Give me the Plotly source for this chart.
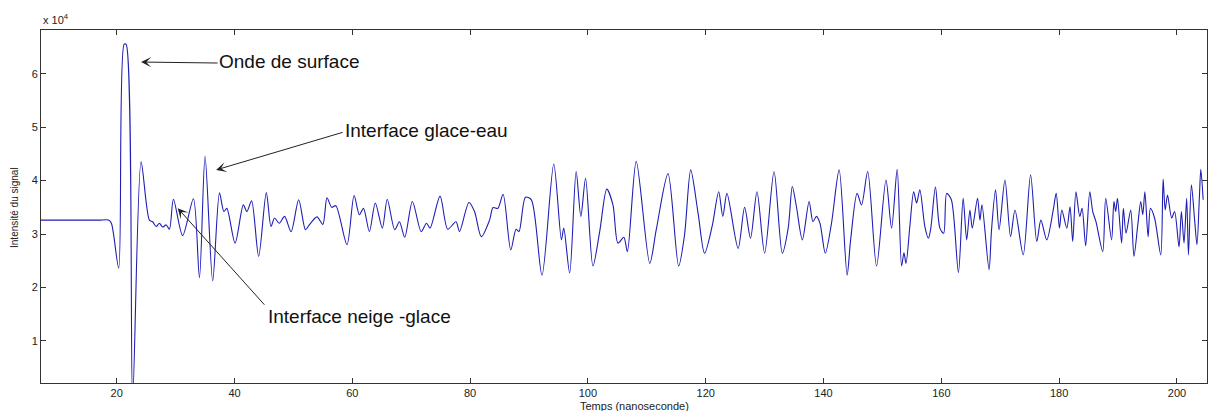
import plotly.graph_objects as go

# ---- data (time in ns, signal intensity) ----
time_ns = [
    7.15, 12.0, 17.0, 18.6, 19.1, 20.34, 21.25, 21.6, 22.7, 24.14, 25.55, 26.1, 26.7, 27.25, 27.8, 28.4, 28.95,
    29.63, 31.2, 33.03, 34.05, 35.0, 36.3, 37.45, 38.2, 38.7, 40.1, 41.5, 42.1, 42.9, 44.1,
    45.4, 46.2, 46.8, 47.6, 48.5, 49.6, 50.9, 52.05, 52.7, 54.0, 55.0, 55.7, 56.5, 57.2,
    59.1, 60.3, 61.2, 61.9, 62.9, 63.9, 65.1, 65.93, 67.2, 68.0, 68.9, 70.2, 71.7, 72.6,
    73.2, 74.9, 76.2, 77.6, 78.2, 79.8, 80.75, 81.9, 83.3, 83.9, 84.7, 85.6, 86.9, 87.8,
    88.3, 89.4, 90.4, 92.2, 94.2, 95.5, 95.9, 96.9, 98.0, 98.8, 99.6, 100.85, 102.0, 103.2,
    104.25, 105.1, 106.1, 106.7, 108.2, 110.5, 111.6, 113.6, 115.4, 116.4, 117.45, 118.7,
    119.8, 121.1, 122.2, 122.9, 123.6, 125.5, 126.6, 127.6, 128.7, 130.0, 131.6, 133.0,
    134.0, 134.7, 135.4, 136.4, 137.55, 138.2, 138.8, 139.4, 140.3, 141.35, 142.65, 144.0,
    144.6, 145.7, 146.45, 147.5, 149.0, 150.6, 151.55, 152.5, 153.25, 153.65, 154.0, 154.65,
    155.3, 155.8, 156.35, 157.2, 157.8, 158.2, 159.0, 159.75, 160.4, 160.9, 161.7, 162.9,
    163.7, 164.3, 164.85, 165.25, 166.15, 166.55, 166.9, 168.1, 168.5, 169.2, 169.8, 170.8,
    171.75, 172.5, 173.9, 175.15, 176.2, 176.9, 177.9, 179.0, 179.5, 180.05, 180.45, 181.3,
    181.85, 182.3, 182.85, 183.5, 183.9, 184.5, 185.2, 185.7, 186.25, 187.4, 187.9, 188.9,
    189.3, 189.6, 189.9, 190.6, 190.9, 191.35, 192.15, 192.7, 193.35, 193.85, 194.2, 194.55,
    195.1, 195.5, 196.2, 197.25, 197.65, 198.0, 198.4, 199.1, 199.6, 200.35, 200.75, 201.2,
    201.65, 201.95, 202.45, 203.0, 203.4, 203.8, 204.05, 204.45,
]
intensity = [
    32600, 32600, 32600, 32600, 32000, 23600, 65500, 65500, -1000, 43500, 32600, 32300, 31400, 32000, 31300, 31700, 30900,
    36500, 29700, 36600, 21800, 44600, 21200, 37700, 34200, 34800, 28300, 35450, 34200, 36200, 25800,
    37750, 31400, 33000, 32000, 33300, 30450, 36400, 30800, 31700, 33200, 31800, 36800, 35000, 35300,
    28000, 37200, 33600, 34800, 30450, 35800, 31100, 36500, 30800, 32300, 29400, 36100, 30450, 32000,
    31100, 37100, 30900, 32300, 30450, 35900, 34200, 29500, 32600, 34950, 34800, 37450, 27000, 30900,
    30450, 36900, 36400, 22300, 43100, 28900, 31100, 22700, 41700, 33300, 40450, 24000, 30450, 38400,
    35450, 28300, 29400, 26700, 43600, 24500, 30800, 41300, 24000, 29800, 42000, 33900,
    26400, 31500, 37900, 33300, 37600, 27300, 35000, 29200, 37900, 26400, 41700, 26400,
    31100, 38900, 35100, 28900, 36100, 32300, 33300, 32000, 26400, 32000, 42000, 22300,
    28900, 37600, 35450, 41700, 24000, 40100, 31100, 42100, 24000, 26500, 24500, 31400,
    37900, 35800, 38300, 31400, 29200, 31000, 38800, 31100, 30150, 37600, 36400, 22800,
    36700, 28900, 34500, 31100, 36700, 32600, 35450, 23300, 30450, 38300, 30800, 40100,
    29500, 34500, 26100, 41100, 28600, 32600, 28900, 34500, 37600, 31100, 34500, 31100,
    35100, 28600, 37900, 33300, 34800, 27800, 37900, 34200, 32300, 26700, 36700, 28900,
    36100, 34200, 36700, 28300, 34800, 30150, 34500, 25800, 31700, 36100, 33600, 37900,
    29500, 34800, 33000, 26100, 40300, 34500, 37300, 33000, 34200, 27600, 34200, 28300,
    36700, 26100, 39200, 32600, 28000, 36700, 42100, 36400,
]

x_ticks = [20, 40, 60, 80, 100, 120, 140, 160, 180, 200]
y_ticks = [10000, 20000, 30000, 40000, 50000, 60000]
y_tick_labels = ["1", "2", "3", "4", "5", "6"]

FONT = "Liberation Sans, Arial, sans-serif"

fig = go.Figure()
fig.add_trace(go.Scatter(
    x=time_ns, y=intensity, mode="lines",
    line=dict(color="rgb(30,30,180)", width=1.1, shape="spline", smoothing=0.8),
    showlegend=False, hoverinfo="skip",
))

axis_common = dict(
    showline=True, linecolor="#333", linewidth=1, mirror="ticks",
    ticks="inside", ticklen=5, tickcolor="#333", tickwidth=1,
    showgrid=False, zeroline=False,
    tickfont=dict(family=FONT, size=11, color="#222"),
)

fig.update_layout(
    width=1216, height=411, autosize=False,
    margin=dict(l=41, r=9, t=30, b=28),
    paper_bgcolor="white", plot_bgcolor="white",
    font=dict(family=FONT, color="#111"),
    xaxis=dict(range=[7.15, 205.1], tickvals=x_ticks, **axis_common),
    yaxis=dict(range=[2100, 68200], tickvals=y_ticks, ticktext=y_tick_labels, **axis_common),
)

# axis titles and exponent marker
fig.add_annotation(text="Temps (nanoseconde)", xref="paper", yref="paper", x=0.5086, y=-0.065,
                   showarrow=False, font=dict(family=FONT, size=11, color="#222"),
                   xanchor="center", yanchor="middle")
fig.add_annotation(text="Intensité du signal", xref="paper", yref="paper", x=-0.0223, y=0.4986,
                   textangle=-90, showarrow=False, font=dict(family=FONT, size=10, color="#222"),
                   xanchor="center", yanchor="middle")
fig.add_annotation(text="x 10<sup>4</sup>", xref="paper", yref="paper", x=0.0, y=1.031,
                   showarrow=False, font=dict(family=FONT, size=11, color="#222"),
                   xanchor="left", yanchor="middle")

# labels
label_font = dict(family=FONT, size=19, color="#111")
fig.add_annotation(text="Onde de surface", x=37.0, y=62230, xanchor="left", yanchor="middle",
                   showarrow=False, font=label_font)
fig.add_annotation(text="Interface glace-eau", x=58.5, y=49300, xanchor="left", yanchor="middle",
                   showarrow=False, font=label_font)
fig.add_annotation(text="Interface neige -glace", x=45.4, y=14530, xanchor="left", yanchor="middle",
                   showarrow=False, font=label_font)

# arrows (head at data point, tail offset in pixels)
arrow_style = dict(text="", showarrow=True, arrowhead=3, arrowsize=1.7, arrowwidth=1,
                   arrowcolor="#222", standoff=0)
fig.add_annotation(x=24.14, y=62200, ax=78, ay=1, **arrow_style)
fig.add_annotation(x=36.88, y=42000, ax=128, ay=-38, **arrow_style)
fig.add_annotation(x=30.36, y=34830, ax=88, ay=98, **arrow_style)

fig.write_html("out.html")
